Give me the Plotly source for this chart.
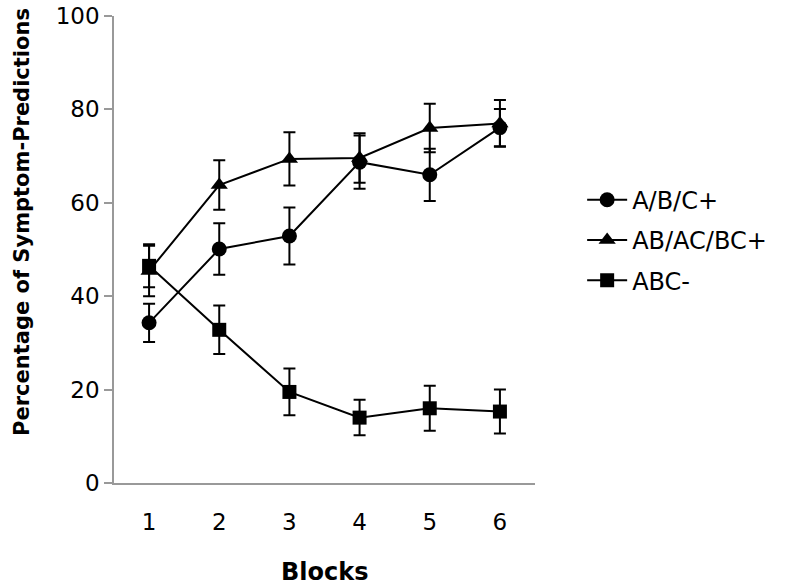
import plotly.graph_objects as go

blocks = ["1", "2", "3", "4", "5", "6"]
abc_plus = [34.3, 50.1, 52.9, 68.7, 66.0, 76.1]
abc_plus_err = [4.1, 5.5, 6.1, 5.7, 5.6, 4.0]
ab_ac_bc_plus = [45.4, 63.8, 69.4, 69.6, 76.0, 77.0]
ab_ac_bc_plus_err = [5.4, 5.3, 5.7, 5.3, 5.2, 5.0]
abc_minus = [46.5, 32.8, 19.5, 14.0, 16.0, 15.3]
abc_minus_err = [4.6, 5.2, 5.0, 3.8, 4.8, 4.7]

series = [
    ("A/B/C+", abc_plus, abc_plus_err, "circle", 15),
    ("AB/AC/BC+", ab_ac_bc_plus, ab_ac_bc_plus_err, "triangle-up", 15),
    ("ABC-", abc_minus, abc_minus_err, "square", 14),
]

fig = go.Figure()
for name, vals, errs, sym, sz in series:
    fig.add_trace(go.Scatter(
        x=blocks, y=vals, name=name, legendgroup=name,
        mode="lines+markers",
        line=dict(color="black", width=2),
        marker=dict(symbol=sym, size=sz, color="black"),
        error_y=dict(type="data", array=errs, visible=True,
                     color="black", thickness=2, width=6),
    ))

fig.update_layout(
    width=791, height=587,
    margin=dict(l=114, r=256, t=16, b=104, autoexpand=False),
    paper_bgcolor="white", plot_bgcolor="white",
    font=dict(family="DejaVu Sans", size=23, color="black"),
    showlegend=True,
    legend=dict(x=1.112, y=0.52, xanchor="left", yanchor="middle",
                font=dict(size=24), tracegroupgap=6, itemwidth=40,
                bgcolor="rgba(0,0,0,0)"),
    xaxis=dict(
        type="category", range=[-0.5, 5.5], automargin=False,
        showline=True, linecolor="#999999", linewidth=1.5,
        ticks="", ticklabelstandoff=18, showgrid=False, zeroline=False,
    ),
    yaxis=dict(
        range=[0, 100], dtick=20, automargin=False,
        showline=True, linecolor="#999999", linewidth=1.5,
        ticks="outside", ticklen=8, tickcolor="#999999", tickwidth=1.5,
        showgrid=False, zeroline=False,
    ),
    annotations=[
        dict(text="<b>Blocks</b>", xref="paper", yref="paper", x=0.5, y=-0.19,
             xanchor="center", yanchor="middle", showarrow=False, font=dict(size=24)),
        dict(text="<b>Percentage of Symptom-Predictions</b>", xref="paper", yref="paper",
             x=-0.2185, y=0.559, textangle=-90, xanchor="center", yanchor="middle",
             showarrow=False, font=dict(size=21)),
    ],
)

fig.write_html("out.html", config={"displayModeBar": False},
               post_script="document.body.style.margin='0';document.body.style.overflow='hidden';")
